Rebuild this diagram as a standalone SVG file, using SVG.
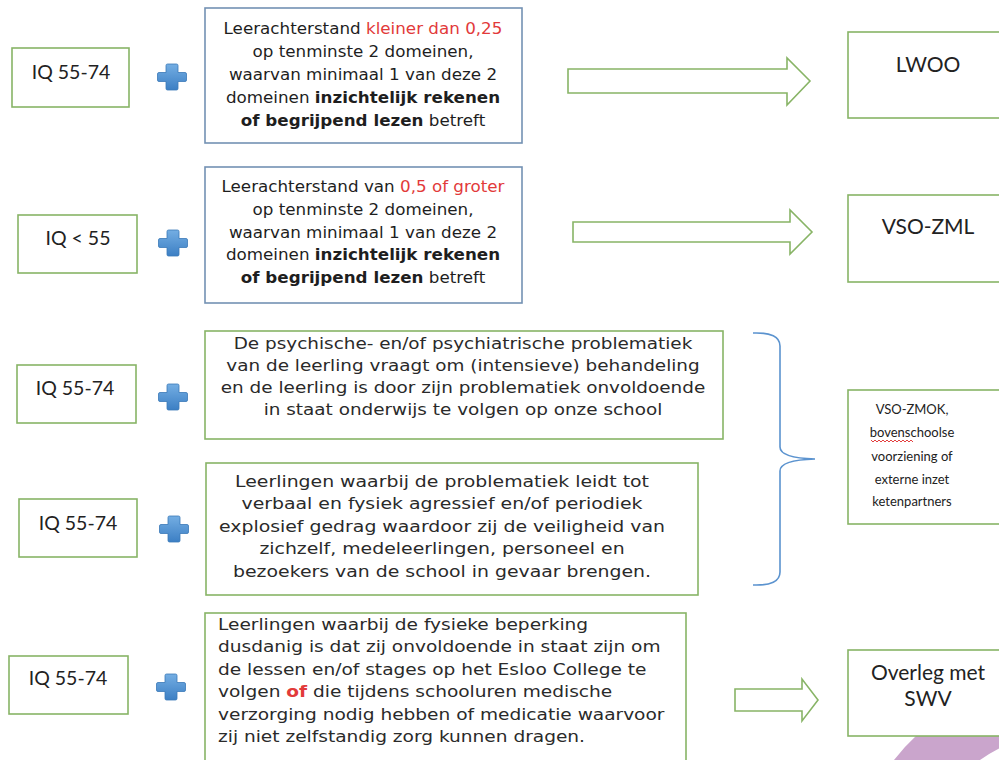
<svg xmlns="http://www.w3.org/2000/svg" width="999" height="760" viewBox="0 0 999 760">
<style>
.gbox{fill:#fff;stroke:#88b466;stroke-width:1.6}
.bbox{fill:#fff;stroke:#7391b3;stroke-width:1.6}
.arrow{fill:#fff;stroke:#88b466;stroke-width:1.6;stroke-linejoin:miter}
.iq{font-family:Lato,"Liberation Sans",sans-serif;font-size:19.5px;fill:#222;text-anchor:middle}
.res{font-family:Lato,"Liberation Sans",sans-serif;font-size:21px;fill:#222;text-anchor:middle}
.small{font-family:Lato,"Liberation Sans",sans-serif;font-size:13px;fill:#222;text-anchor:middle}
.t1{font-family:"DejaVu Sans",Verdana,sans-serif;font-size:15.5px;fill:#1e1e1e;text-anchor:middle}
.t2{font-family:"DejaVu Sans",Verdana,sans-serif;font-size:16px;fill:#2a2a2a;text-anchor:middle}
.t3{font-family:"DejaVu Sans",Verdana,sans-serif;font-size:16px;fill:#2a2a2a;text-anchor:start}
.b{font-weight:bold}
.red{fill:#e23a3a}
.brace{fill:none;stroke:#5b93cf;stroke-width:1.6}
</style>
<defs>
<linearGradient id="pg" x1="0" y1="0" x2="0" y2="1">
<stop offset="0" stop-color="#74aee3"/>
<stop offset="1" stop-color="#3c7fc4"/>
</linearGradient>
<path id="plus" d="M-4.5,-13 h9 a1.5,1.5 0 0 1 1.5,1.5 v7 h7 a1.5,1.5 0 0 1 1.5,1.5 v6 a1.5,1.5 0 0 1 -1.5,1.5 h-7 v7 a1.5,1.5 0 0 1 -1.5,1.5 h-9 a1.5,1.5 0 0 1 -1.5,-1.5 v-7 h-7 a1.5,1.5 0 0 1 -1.5,-1.5 v-6 a1.5,1.5 0 0 1 1.5,-1.5 h7 v-7 a1.5,1.5 0 0 1 1.5,-1.5 z" fill="url(#pg)" stroke="#3a78b8" stroke-width="0.8"/>
</defs>
<rect width="999" height="760" fill="#fff"/>

<g id="decoration">
<path d="M894,760 A200,200 0 0 1 1004,688 L1004,746 A140,140 0 0 0 980,760 Z" fill="#caa5cc"/>
</g>

<g id="connectors">
<polygon class="arrow" points="568,69 787,69 787,58 810,81 787,105 787,93 568,93"/>
<polygon class="arrow" points="573,222 790,222 790,210 812,232 790,254 790,242 573,242"/>
<polygon class="arrow" points="735,689 802,689 802,679 818,700 802,721 802,711 735,711"/>
<path class="brace" d="M753,333 Q780,332 780,346 L780,447 Q780,458 815,459 Q780,460 780,471 L780,572 Q780,586 753,585"/>
<use href="#plus" x="172" y="77"/>
<use href="#plus" x="173" y="243"/>
<use href="#plus" x="173" y="397"/>
<use href="#plus" x="174" y="529"/>
<use href="#plus" x="171" y="687"/>
</g>

<g id="iq1">
<rect class="gbox" x="12" y="48" width="117" height="59"/>
<text class="iq" x="71" y="79">IQ 55-74</text>
</g>
<g id="cond1">
<rect class="bbox" x="205" y="8" width="317" height="135"/>
<g transform="translate(363 0) scale(1.08 1)">
<text class="t1" x="0" y="34">Leerachterstand <tspan class="red">kleiner dan 0,25</tspan></text>
<text class="t1" x="0" y="57">op tenminste 2 domeinen,</text>
<text class="t1" x="0" y="80">waarvan minimaal 1 van deze 2</text>
<text class="t1" x="0" y="103">domeinen <tspan class="b">inzichtelijk rekenen</tspan></text>
<text class="t1" x="0" y="126"><tspan class="b">of begrijpend lezen</tspan> betreft</text>
</g>
</g>
<g id="lwoo">
<rect class="gbox" x="848" y="32" width="160" height="86"/>
<text class="res" x="928" y="72">LWOO</text>
</g>

<g id="iq2">
<rect class="gbox" x="18" y="215" width="119" height="58"/>
<text class="iq" x="78" y="245">IQ &lt; 55</text>
</g>
<g id="cond2">
<rect class="bbox" x="205" y="167" width="317" height="136"/>
<g transform="translate(363 0) scale(1.08 1)">
<text class="t1" x="0" y="192">Leerachterstand van <tspan class="red">0,5 of groter</tspan></text>
<text class="t1" x="0" y="215">op tenminste 2 domeinen,</text>
<text class="t1" x="0" y="238">waarvan minimaal 1 van deze 2</text>
<text class="t1" x="0" y="260">domeinen <tspan class="b">inzichtelijk rekenen</tspan></text>
<text class="t1" x="0" y="283"><tspan class="b">of begrijpend lezen</tspan> betreft</text>
</g>
</g>
<g id="vsozml">
<rect class="gbox" x="848" y="195" width="160" height="87"/>
<text class="res" x="928" y="234">VSO-ZML</text>
</g>

<g id="iq3">
<rect class="gbox" x="17" y="365" width="119" height="58"/>
<text class="iq" x="75" y="395">IQ 55-74</text>
</g>
<g id="cond3">
<rect class="gbox" x="205" y="331" width="518" height="108"/>
<g transform="translate(463 0) scale(1.15 1)">
<text class="t2" x="0" y="349">De psychische- en/of psychiatrische problematiek</text>
<text class="t2" x="0" y="371">van de leerling vraagt om (intensieve) behandeling</text>
<text class="t2" x="0" y="393">en de leerling is door zijn problematiek onvoldoende</text>
<text class="t2" x="0" y="415">in staat onderwijs te volgen op onze school</text>
</g>
</g>

<g id="iq4">
<rect class="gbox" x="19" y="499" width="118" height="58"/>
<text class="iq" x="78" y="530">IQ 55-74</text>
</g>
<g id="cond4">
<rect class="gbox" x="206" y="463" width="492" height="132"/>
<g transform="translate(442 0) scale(1.18 1)">
<text class="t2" x="0" y="487">Leerlingen waarbij de problematiek leidt tot</text>
<text class="t2" x="0" y="509">verbaal en fysiek agressief en/of periodiek</text>
<text class="t2" x="0" y="532">explosief gedrag waardoor zij de veiligheid van</text>
<text class="t2" x="0" y="554">zichzelf, medeleerlingen, personeel en</text>
<text class="t2" x="0" y="577">bezoekers van de school in gevaar brengen.</text>
</g>
</g>
<g id="vsozmok">
<rect class="gbox" x="848" y="390" width="160" height="134"/>
<text class="small" x="912" y="414">VSO-ZMOK,</text>
<text class="small" x="912" y="437">bovenschoolse</text>
<path d="M871,440 l2,2 l2,-2 l2,2 l2,-2 l2,2 l2,-2 l2,2 l2,-2 l2,2 l2,-2 l2,2 l2,-2 l2,2 l2,-2 l2,2 l2,-2 l2,2 l2,-2 l2,2 l2,-2 l2,2" fill="none" stroke="#e02b2b" stroke-width="0.9"/>
<text class="small" x="912" y="461">voorziening of</text>
<text class="small" x="912" y="484">externe inzet</text>
<text class="small" x="912" y="506">ketenpartners</text>
</g>

<g id="iq5">
<rect class="gbox" x="9" y="656" width="119" height="58"/>
<text class="iq" x="68" y="685">IQ 55-74</text>
</g>
<g id="cond5">
<rect class="gbox" x="205" y="613" width="481" height="160"/>
<g transform="translate(218 0) scale(1.16 1)">
<text class="t3" x="0" y="630">Leerlingen waarbij de fysieke beperking</text>
<text class="t3" x="0" y="652">dusdanig is dat zij onvoldoende in staat zijn om</text>
<text class="t3" x="0" y="675">de lessen en/of stages op het Esloo College te</text>
<text class="t3" x="0" y="697">volgen <tspan class="b red">of</tspan> die tijdens schooluren medische</text>
<text class="t3" x="0" y="720">verzorging nodig hebben of medicatie waarvoor</text>
<text class="t3" x="0" y="742">zij niet zelfstandig zorg kunnen dragen.</text>
</g>
</g>
<g id="overleg">
<rect class="gbox" x="848" y="650" width="160" height="86"/>
<text class="res" x="928" y="680">Overleg met</text>
<text class="res" x="928" y="706">SWV</text>
</g>
</svg>
